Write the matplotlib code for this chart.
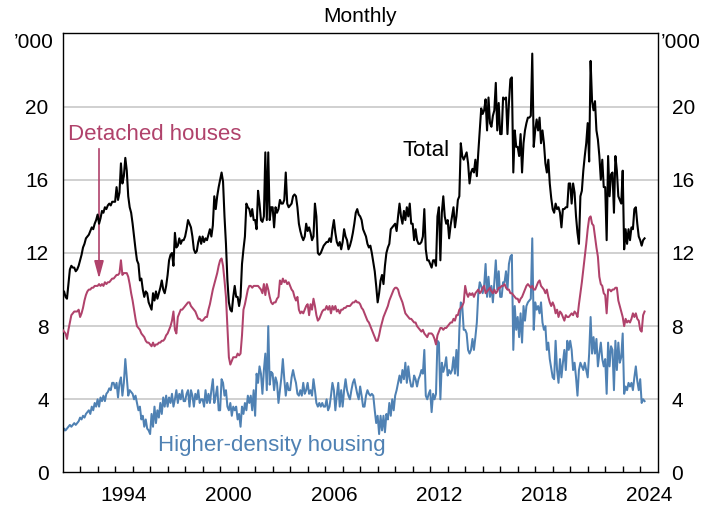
import numpy as np
import matplotlib

matplotlib.use("Agg")
import matplotlib.pyplot as plt
from matplotlib.transforms import blended_transform_factory

plt.rcParams["font.family"] = ["Liberation Sans", "DejaVu Sans"]

# monthly dwelling approvals, '000, Jan 1991 - Apr 2024
start_year = 1991
total = [
    9.9, 9.9, 9.6, 9.5, 10.3, 11.1, 11.3, 11.2, 11.2, 11.0, 11.1, 11.3,  # 1991
    11.6, 11.9, 12.3, 12.5, 12.8, 12.9, 13.0, 13.2, 13.4, 13.3, 13.6, 13.8,
    14.1, 13.6, 13.9, 14.3, 14.2, 14.5, 14.4, 14.6, 14.7, 14.6, 14.8, 14.8,
    14.8, 15.6, 14.9, 15.3, 16.9, 15.8, 16.2, 17.2, 16.5, 15.1, 14.5, 14.2,
    13.6, 12.9, 12.2, 11.6, 11.4, 10.5, 10.6, 10.0, 9.6, 9.9, 9.8, 9.3,  # 1995
    9.1, 8.9, 9.8, 9.4, 9.9, 9.5, 9.8, 10.1, 10.5, 10.0, 9.8, 10.2,
    10.8, 11.6, 11.9, 12.0, 11.3, 13.1, 12.3, 12.4, 12.8, 12.5, 12.7, 12.7,
    12.9, 13.3, 13.8, 13.6, 13.4, 12.9, 12.2, 12.0, 12.1, 12.6, 12.9, 12.5,
    12.9, 12.6, 12.8, 12.7, 13.0, 13.3, 12.9, 13.5, 15.1, 14.4, 15.1, 15.6,
    16.0, 16.4, 15.9, 14.0, 12.5, 10.5, 9.3, 8.9, 8.8, 9.6, 10.2, 9.6,  # 2000
    9.6, 9.1, 9.6, 11.4, 12.2, 12.9, 14.7, 14.5, 14.4, 14.0, 14.4, 13.8,
    13.8, 13.3, 15.4, 14.7, 13.8, 13.7, 14.0, 17.5, 13.8, 17.5, 13.8, 14.5,
    14.5, 13.4, 14.5, 14.2, 14.4, 14.9, 14.7, 14.7, 14.9, 16.4, 14.7, 14.5,
    14.6, 14.7, 15.1, 15.2, 15.1, 14.5, 13.6, 13.2, 12.9, 12.7, 12.9, 13.6,
    13.2, 13.4, 13.1, 12.7, 12.9, 14.7, 14.0, 12.0, 11.9, 12.0, 12.2, 12.4,  # 2005
    12.5, 12.6, 12.6, 12.8, 12.6, 13.3, 13.8, 13.1, 12.6, 12.4, 12.6, 12.2,
    12.6, 13.3, 12.9, 12.7, 12.2, 12.4, 12.7, 13.1, 13.6, 14.2, 14.4, 14.1,
    14.0, 13.8, 13.3, 13.1, 12.9, 12.5, 12.3, 12.4, 12.0, 11.5, 11.0, 10.2,
    9.3, 9.8, 10.5, 10.8, 10.3, 11.3, 12.0, 12.3, 12.5, 13.3, 13.4, 13.5,
    13.6, 13.2, 14.0, 14.7, 14.0, 13.6, 14.3, 13.8, 14.5, 14.0, 14.7, 13.6,  # 2010
    13.6, 12.7, 13.3, 12.7, 12.5, 12.5, 12.6, 12.9, 14.4, 12.2, 11.6, 11.6,
    11.4, 11.2, 11.6, 11.6, 11.3, 14.0, 14.5, 11.6, 14.2, 15.1, 14.0, 13.6,
    13.8, 12.8, 13.5, 14.0, 14.5, 13.4, 14.0, 14.9, 15.1, 18.0, 17.3, 17.1,
    17.3, 17.5, 16.9, 15.8, 16.4, 16.6, 16.4, 17.1, 16.2, 17.5, 18.7, 19.9,
    19.6, 19.8, 20.4, 18.7, 20.5, 19.1, 18.9, 19.5, 19.8, 21.3, 18.7, 20.2,  # 2015
    18.5, 18.5, 20.5, 20.4, 20.5, 18.5, 20.2, 21.5, 21.6, 16.4, 18.7, 17.8,
    17.8, 17.3, 18.5, 16.4, 18.0, 18.7, 19.1, 19.4, 19.4, 19.5, 22.9, 17.8,
    18.7, 19.3, 18.7, 19.4, 18.0, 18.7, 18.0, 16.9, 16.4, 17.1, 15.8, 15.0,
    14.4, 14.2, 14.7, 14.4, 14.5, 14.2, 13.4, 14.4, 14.4, 14.5, 14.5, 15.8,
    15.8, 14.7, 15.8, 15.3, 14.0, 13.1, 12.5, 15.1, 15.4, 16.5, 17.3, 18.0,  # 2020
    19.1, 17.0, 22.5, 20.3, 19.8, 20.3, 18.7, 18.2, 17.3, 16.0, 17.1, 15.6,
    15.6, 12.7, 17.3, 15.1, 16.3, 16.4, 14.2, 17.3, 16.5, 15.1, 14.9, 14.7,
    16.5, 12.2, 13.3, 12.5, 13.3, 12.7, 13.4, 13.3, 14.4, 14.5, 13.6, 12.9,
    12.7, 12.4, 12.7, 12.8,  # 2024
]
detached = [
    7.8, 7.7, 7.6, 7.3, 7.8, 8.2, 8.6, 8.7, 8.8, 8.8, 8.8, 8.9,  # 1991
    8.5, 8.7, 9.0, 9.4, 9.7, 9.9, 10.0, 10.0, 10.1, 10.1, 10.2, 10.2,
    10.2, 10.3, 10.2, 10.3, 10.2, 10.4, 10.3, 10.4, 10.4, 10.5, 10.6, 10.6,
    10.7, 10.8, 10.8, 10.9, 11.6, 10.8, 10.9, 10.9, 10.9, 10.7, 10.3, 9.8,
    9.4, 8.9, 8.4, 8.0, 7.9, 7.8, 7.6, 7.5, 7.4, 7.2, 7.1, 7.1,  # 1995
    7.0, 6.9, 7.1, 6.9, 7.0, 7.0, 7.1, 7.1, 7.2, 7.2, 7.3, 7.5,
    7.6, 7.8, 8.0, 8.3, 8.8, 7.8, 7.6, 8.5, 8.7, 8.9, 8.9, 9.0,
    9.1, 9.2, 9.3, 9.3, 9.1, 9.0, 8.9, 8.8, 8.6, 8.4, 8.4, 8.3,
    8.3, 8.4, 8.5, 8.5, 8.9, 9.2, 9.6, 10.0, 10.3, 10.6, 10.9, 11.3,
    11.6, 11.7, 11.3, 10.5, 9.6, 8.0, 6.3, 5.9, 6.1, 6.3, 6.3, 6.3,  # 2000
    6.5, 6.4, 6.5, 7.5, 8.9, 9.2, 9.6, 10.0, 10.2, 10.2, 10.1, 10.2,
    10.2, 10.2, 10.2, 10.1, 10.0, 9.8, 10.3, 9.7, 10.3, 10.0, 9.6, 9.3,
    9.2, 9.3, 9.3, 9.5, 9.6, 10.5, 10.3, 10.6, 10.4, 10.5, 10.3, 10.4,
    10.2, 10.0, 9.9, 9.6, 9.4, 9.6, 8.9, 8.7, 8.8, 8.7, 8.9, 9.1,
    9.2, 8.6, 9.2, 8.9, 9.5, 9.1, 8.6, 8.3, 8.4, 8.6, 8.8, 8.9,  # 2005
    8.9, 9.1, 8.9, 9.1, 8.7, 9.1, 8.9, 9.1, 8.8, 8.9, 8.7, 8.9,
    8.9, 9.0, 9.0, 9.1, 9.1, 9.1, 9.2, 9.3, 9.3, 9.4, 9.3, 9.3,
    9.2, 9.0, 8.9, 8.7, 8.5, 8.3, 8.2, 8.0, 7.8, 7.6, 7.4, 7.2,
    7.2, 7.5, 7.9, 8.2, 8.5, 8.7, 8.9, 9.1, 9.4, 9.6, 9.8, 10.0,
    10.1, 10.1, 10.0, 9.7, 9.5, 9.3, 9.0, 8.7, 8.6, 8.5, 8.4, 8.4,  # 2010
    8.3, 8.2, 8.2, 8.0, 7.9, 7.8, 7.7, 7.8, 7.6, 7.5, 7.4, 7.6,
    7.6, 7.6, 7.5, 7.3, 7.0, 7.5, 7.7, 7.9, 7.9, 7.8, 7.9, 7.9,
    8.0, 8.1, 8.2, 8.2, 8.4, 8.3, 8.6, 8.6, 8.9, 9.0, 9.1, 9.3,
    10.2, 9.8, 9.6, 9.8, 9.7, 9.8, 9.6, 9.8, 9.9, 10.0, 9.8, 9.9,
    10.1, 10.2, 9.8, 9.9, 10.0, 10.1, 9.9, 9.8, 10.0, 9.8, 9.9, 10.1,  # 2015
    10.1, 10.2, 10.2, 10.3, 10.1, 10.0, 10.0, 9.8, 9.8, 9.7, 9.6, 9.5,
    9.5, 9.3, 9.5, 9.6, 9.8, 10.0, 10.2, 10.3, 10.2, 10.1, 10.2, 10.0,
    10.0, 10.2, 10.4, 10.5, 10.2, 10.1, 10.0, 9.8, 10.0, 9.6, 9.3, 9.1,
    9.3, 9.1, 8.7, 8.9, 8.5, 8.8, 8.7, 8.5, 8.3, 8.6, 8.5, 8.5,
    8.6, 8.7, 8.6, 8.8, 8.7, 8.5, 9.2, 9.8, 10.4, 11.1, 11.8, 12.5,  # 2020
    13.3, 13.9, 14.0, 13.6, 13.5, 12.9, 12.3, 11.8, 10.7, 10.3, 10.2, 9.8,
    9.7, 8.7, 10.0, 10.0, 9.9, 10.0, 10.0, 10.1, 10.1, 9.4, 9.1, 8.8,
    8.5, 8.0, 8.4, 8.2, 8.3, 8.2, 8.4, 8.7, 8.5, 8.7, 8.4, 8.3,
    7.8, 7.7, 8.6, 8.8,  # 2024
]
higher_density = [
    2.1, 2.4, 2.3, 2.4, 2.5, 2.6, 2.5, 2.6, 2.7, 2.6, 2.7, 2.8,  # 1991
    3.0, 2.9, 3.1, 3.0, 3.2, 3.3, 3.4, 3.2, 3.6, 3.4, 3.8, 3.6,
    4.0, 3.6, 4.1, 3.9, 4.2, 3.9, 4.3, 4.4, 4.6, 4.5, 4.9, 4.9,
    4.6, 4.9, 4.1, 4.9, 5.2, 4.2, 4.9, 6.2, 5.2, 4.2, 4.5, 4.4,
    4.3, 4.0, 4.2, 3.8, 3.4, 3.6, 2.9, 3.1, 2.5, 2.9, 2.4, 2.3,  # 1995
    2.1, 3.2, 2.5, 3.6, 2.7, 3.4, 3.0, 3.8, 3.2, 4.1, 3.6, 4.2,
    3.6, 4.1, 3.8, 4.3, 3.6, 4.0, 4.5, 3.8, 4.3, 4.0, 4.5, 3.9,
    3.9, 4.3, 4.5, 3.6, 4.5, 4.2, 3.6, 4.3, 4.0, 4.5, 3.8, 4.0,
    4.0, 3.6, 4.5, 3.8, 4.3, 3.8, 4.5, 5.1, 3.8, 4.2, 4.7, 3.4,
    3.4, 5.1, 4.9, 4.2, 4.5, 3.6, 3.4, 3.8, 3.1, 3.6, 3.4, 3.6,  # 2000
    2.9, 3.2, 2.5, 3.6, 3.2, 3.8, 3.4, 4.2, 3.8, 4.2, 3.4, 4.5,
    3.1, 5.4, 4.9, 5.8, 5.4, 4.3, 5.6, 6.5, 4.5, 8.0, 4.8, 5.5,
    5.4, 4.5, 5.2, 4.9, 3.8, 4.5, 5.2, 6.2, 5.1, 4.2, 4.9, 4.5,
    4.5, 5.2, 5.6, 5.2, 4.9, 4.3, 4.2, 4.5, 4.2, 4.9, 4.3, 4.5,
    4.9, 4.3, 4.5, 4.2, 5.1, 4.5, 3.8, 3.6, 3.8, 3.6, 3.8, 3.6,  # 2005
    3.6, 4.0, 3.4, 3.6, 4.2, 4.9, 4.5, 3.4, 4.2, 4.9, 3.6, 4.5,
    3.6, 4.5, 5.1, 4.5, 4.2, 4.0, 4.5, 4.9, 5.1, 4.7, 4.3, 4.0,
    4.7, 4.2, 3.6, 3.6, 4.2, 4.5, 4.3, 4.2, 4.3, 4.2, 3.4, 2.7,
    3.1, 2.1, 3.1, 2.3, 3.1, 2.2, 3.2, 2.9, 3.8, 3.1, 4.0, 3.4,
    4.2, 4.5, 4.9, 5.3, 4.9, 5.6, 5.1, 6.0, 4.9, 5.8, 5.1, 4.7,  # 2010
    4.7, 5.3, 5.1, 4.7, 5.1, 5.3, 5.6, 5.4, 6.7, 4.2, 4.0, 4.3,
    4.5, 3.3, 4.3, 4.0, 4.3, 7.2, 7.1, 4.0, 6.0, 5.5, 5.8, 6.3,
    5.3, 5.6, 5.4, 5.6, 6.3, 5.4, 6.7, 5.3, 7.8, 9.3, 9.1, 7.8,
    7.8, 7.6, 6.7, 6.5, 6.7, 7.3, 6.7, 7.4, 8.2, 9.8, 10.4, 10.2,
    9.8, 10.2, 11.4, 9.6, 10.7, 9.6, 10.2, 9.3, 10.4, 11.6, 10.0, 11.0,  # 2015
    9.6, 9.6, 10.4, 10.4, 11.0, 10.0, 11.4, 11.8, 11.9, 6.7, 9.1, 7.8,
    8.5, 7.4, 8.7, 7.1, 9.1, 8.3, 9.1, 9.3, 9.4, 9.5, 12.8, 7.8,
    9.3, 8.9, 9.1, 8.7, 9.3, 8.2, 7.8, 8.0, 6.7, 7.1, 6.2, 5.7,
    5.2, 5.1, 7.2, 5.6, 4.9, 6.2, 5.2, 6.0, 6.7, 5.6, 7.2, 6.7,
    7.2, 6.7, 5.6, 6.0, 5.2, 4.2, 5.6, 6.0, 5.8, 5.6, 6.0, 5.6,  # 2020
    5.2, 6.5, 8.5, 6.5, 7.4, 6.5, 7.3, 5.8, 6.5, 7.1, 6.2, 5.8,
    6.2, 4.3, 7.1, 5.8, 6.9, 6.7, 4.5, 7.2, 5.6, 7.1, 6.0, 6.3,
    7.6, 4.3, 4.7, 4.5, 4.9, 4.7, 4.9, 4.5, 5.2, 5.8, 5.0, 4.5,
    5.1, 3.8, 4.0, 3.9,  # 2024
]
year_labels = [1994, 2000, 2006, 2012, 2018, 2024]
y_ticks = [0, 4, 8, 12, 16, 20]

TOTAL_COLOR = "#000000"
DETACHED_COLOR = "#b0426b"
DENSITY_COLOR = "#4f81b3"

months = start_year + np.arange(len(total)) / 12

fig = plt.figure(figsize=(7.17, 5.05), dpi=100)
ax = fig.add_axes([0.0873, 0.0644, 0.8300, 0.8693])

for v in y_ticks[1:]:
    ax.axhline(v, color="#c4c4c4", lw=1.1, zorder=0)

ax.plot(months, higher_density, color=DENSITY_COLOR, lw=1.45, zorder=2)
ax.plot(months, detached, color=DETACHED_COLOR, lw=1.45, zorder=3)
ax.plot(months, total, color=TOTAL_COLOR, lw=1.5, zorder=4)

ax.set_xlim(1991, 2025)
ax.set_ylim(0, 24)

# y labels on both sides, no tick marks
ax.set_yticks(y_ticks)
ax.set_yticklabels([str(v) for v in y_ticks])
ax.tick_params(axis="y", length=0, labelsize=15, labelleft=True, labelright=True, pad=10)
trans = blended_transform_factory(ax.transAxes, ax.transData)
ax.text(-0.015, 24, "\u2019000", transform=trans, ha="right", va="top", fontsize=15)
ax.text(1.005, 24, "\u2019000", transform=trans, ha="left", va="top", fontsize=15)

# year labels centred in the year, tick marks on year boundaries
ax.set_xticks([y + 0.5 for y in year_labels])
ax.set_xticklabels([str(y) for y in year_labels])
ax.tick_params(axis="x", which="major", length=0, labelsize=15, pad=10)
ax.set_xticks(range(1992, 2025), minor=True)
ax.tick_params(axis="x", which="minor", direction="in", length=4.5, width=1.0, color="black")

for s in ax.spines.values():
    s.set_linewidth(1.0)
    s.set_color("black")

ax.text(1991.31, 18.5, "Detached houses", color=DETACHED_COLOR, fontsize=16, va="center", ha="left")
ax.annotate(
    "", xy=(1993.08, 10.6), xytext=(1993.08, 17.7),
    arrowprops=dict(arrowstyle="-|>,head_length=0.7,head_width=0.19", mutation_scale=15,
                    color=DETACHED_COLOR, lw=1.2, shrinkA=0, shrinkB=0),
)
ax.text(2010.43, 17.6, "Total", color=TOTAL_COLOR, fontsize=16, va="center", ha="left")
ax.text(1996.45, 1.5, "Higher-density housing", color=DENSITY_COLOR, fontsize=16, va="center", ha="left")

fig.text(0.502, 0.968, "Monthly", ha="center", va="center", fontsize=15)

fig.savefig("out.png", dpi=100)
